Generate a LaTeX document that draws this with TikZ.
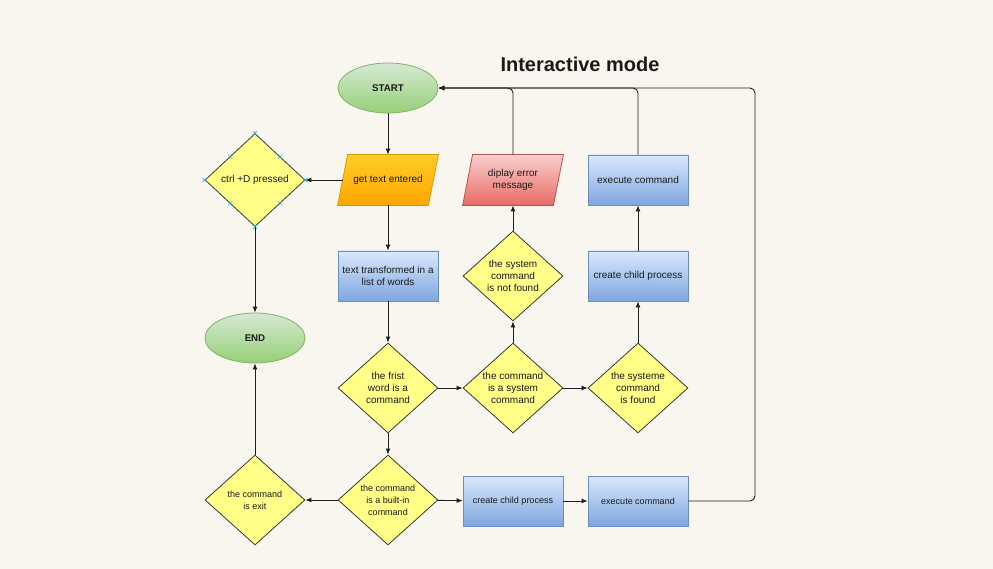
\documentclass[tikz,border=0pt]{standalone}
\usepackage{fontspec}
\setmainfont{Liberation Sans}
\usetikzlibrary{shapes.geometric,arrows.meta,backgrounds}
\definecolor{paper}{HTML}{F8F6EF}
\definecolor{ink}{HTML}{1A1A1A}
\definecolor{wire}{HTML}{1E1E1E}
\definecolor{greentop}{HTML}{D5E8D4}
\definecolor{greenbot}{HTML}{97D077}
\definecolor{greenline}{HTML}{82B366}
\definecolor{orangetop}{HTML}{FFCD28}
\definecolor{orangebot}{HTML}{FFA500}
\definecolor{orangeline}{HTML}{D79B00}
\definecolor{redtop}{HTML}{F8CECC}
\definecolor{redbot}{HTML}{EA6B66}
\definecolor{redline}{HTML}{B85450}
\definecolor{bluetop}{HTML}{DAE8FC}
\definecolor{bluebot}{HTML}{7EA6E0}
\definecolor{blueline}{HTML}{6C8EBF}
\definecolor{testfill}{HTML}{FFFF88}
\definecolor{testline}{HTML}{36393D}
\definecolor{handle}{HTML}{29B6F2}
\begin{document}
\begin{tikzpicture}[x=1pt,y=-1pt,
  every node/.style={font=\fontsize{10}{12}\selectfont, text=ink, align=center, line width=0.8pt},
  small/.style={font=\fontsize{9}{12}\selectfont},
  flow/.style={draw=wire, line width=0.9pt, -{Latex[length=6pt,width=5pt]}},
  startend/.style={ellipse, draw=greenline, top color=greentop, bottom color=greenbot,
    minimum width=100pt, minimum height=50pt, font=\fontsize{9.7}{12}\selectfont\bfseries},
  iobox/.style={rectangle, minimum width=100pt, minimum height=50pt, inner sep=0pt},
  slant/.style={line width=0.8pt},
  procbox/.style={rectangle, draw=blueline, top color=bluetop, bottom color=bluebot,
    minimum width=100pt, minimum height=50pt, inner sep=0pt},
  test/.style={diamond, aspect=1.1, draw=testline, fill=testfill,
    minimum width=100pt, minimum height=90pt, inner sep=0pt}]
\node[font=\fontsize{20}{24}\selectfont\bfseries] (title) at (580,64) {Interactive mode};

\node[startend] (start) at (388,88) {START};
\node[iobox] (get) at (388,180) {get text entered};
\node[test, minimum height=93pt] (ctrl) at (255,180) {ctrl +D pressed};
\node[startend] (end) at (255,338) {END};
\node[procbox] (words) at (388,276) {text transformed in a\\list of words};
\node[test] (isCmd) at (388,388) {the frist\\word is a\\command};
\node[test] (isSys) at (513,388) {the command\\is a system\\command};
\node[test] (sysFound) at (638,388) {the systeme\\command\\is found};
\node[test] (notFound) at (513,276) {the system\\command\\is not found};
\node[iobox] (errMsg) at (513,180) {diplay error\\message};
\node[procbox] (execA) at (638,180) {execute command};
\node[procbox] (childA) at (638,276) {create child process};
\node[test, small] (builtin) at (388,500) {the command\\is a built-in\\command};
\node[test, small] (isExit) at (255,500) {the command\\is exit};
\node[procbox, small] (childB) at (513,501) {create child process};
\node[procbox, small] (execB) at (638,501) {execute command};
\coordinate (loop) at (755,501);

% paper and the two slanted input/output shapes
\begin{scope}[on background layer]
\fill[paper] (0,0) rectangle (993,569);
\shade[slant, draw=orangeline, top color=orangetop, bottom color=orangebot]
  ([xshift=10pt]get.north west) -- (get.north east) -- ([xshift=-10pt]get.south east) -- (get.south west) -- cycle;
\shade[slant, draw=redline, top color=redtop, bottom color=redbot]
  ([xshift=10pt]errMsg.north west) -- (errMsg.north east) -- ([xshift=-10pt]errMsg.south east) -- (errMsg.south west) -- cycle;
\end{scope}

% selection handles
\foreach \a in {north,north east,east,south east,south,south west,west,north west} {
  \draw[handle, line width=0.6pt] ([shift={(-2,-2)}]ctrl.\a) -- ++(4,4);
  \draw[handle, line width=0.6pt] ([shift={(-2,2)}]ctrl.\a) -- ++(4,-4);
}

\draw[flow] (start) -- (get);
\draw[flow] ([xshift=5pt]get.west) -- (ctrl.east);
\draw[flow] (ctrl) -- (end);
\draw[flow] (get) -- (words);
\draw[flow] (words) -- (isCmd);
\draw[flow] (isCmd) -- (isSys);
\draw[flow] (isSys) -- (sysFound);
\draw[flow] (sysFound) -- (childA);
\draw[flow] (childA) -- (execA);
\draw[flow, rounded corners=5] (execA) |- (start);
\draw[flow] (isSys) -- (notFound);
\draw[flow] (notFound) -- (errMsg);
\draw[flow, rounded corners=5] (errMsg) |- (start);
\draw[flow] (isCmd) -- (builtin);
\draw[flow] (builtin) -- (isExit);
\draw[flow] (isExit) -- (end);
\draw[flow] (builtin) -- (childB);
\draw[flow] (childB) -- (execB);
\draw[flow, rounded corners=5] (execB) -- (loop) |- (start);
\end{tikzpicture}
\end{document}
